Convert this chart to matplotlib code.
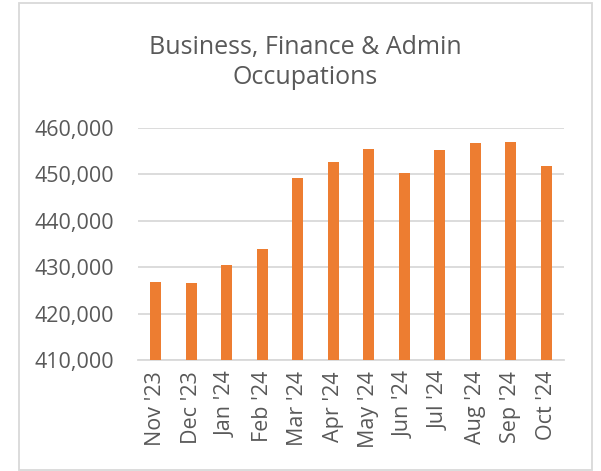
import matplotlib
matplotlib.use("Agg")
import matplotlib.pyplot as plt
from matplotlib.patches import Rectangle
from matplotlib.ticker import FuncFormatter

months = ["Nov '23", "Dec '23", "Jan '24", "Feb '24", "Mar '24", "Apr '24",
          "May '24", "Jun '24", "Jul '24", "Aug '24", "Sep '24", "Oct '24"]
employed = [426850, 426500, 430350, 433900, 449100, 452500,
            455400, 450150, 455250, 456750, 456950, 451850]
y_ticks = [410000, 420000, 430000, 440000, 450000, 460000]

text_col = "#595959"
grid_col = "#D9D9D9"
bar_col = "#ED7D31"

plt.rcParams["font.family"] = ["Open Sans", "DejaVu Sans"]

fig = plt.figure(figsize=(6.01, 4.71), dpi=100)
ax = fig.add_axes([0.2296, 0.2357, 0.7088, 0.4933])

x = list(range(len(months)))
ax.bar(x, employed, width=0.31, color=bar_col, zorder=3)

ax.set_xlim(-0.5, len(months) - 0.5)
ax.set_ylim(y_ticks[0], y_ticks[-1])
ax.set_yticks(y_ticks)
ax.yaxis.set_major_formatter(FuncFormatter(lambda v, p: f"{int(v):,}"))
ax.set_xticks(x)
ax.set_xticklabels(months, rotation=90)

ax.grid(axis="y", color=grid_col, linewidth=1.3, zorder=0)
for s in ["top", "right", "left"]:
    ax.spines[s].set_visible(False)
ax.spines["bottom"].set_color(grid_col)
ax.spines["bottom"].set_linewidth(1.3)
ax.tick_params(axis="both", length=0, colors=text_col, labelsize=15.5)
ax.tick_params(axis="y", pad=17)
ax.tick_params(axis="x", pad=8)

fig.text(0.508, 0.868, "Business, Finance & Admin\nOccupations", ha="center",
         va="center", fontsize=18, color=text_col, linespacing=1.25)

# chart border
fig.patches.append(Rectangle((0.0324, 0.002), 0.953, 0.9915, transform=fig.transFigure,
                             fill=False, edgecolor=grid_col, linewidth=1.3))

fig.savefig("out.png", dpi=100)
